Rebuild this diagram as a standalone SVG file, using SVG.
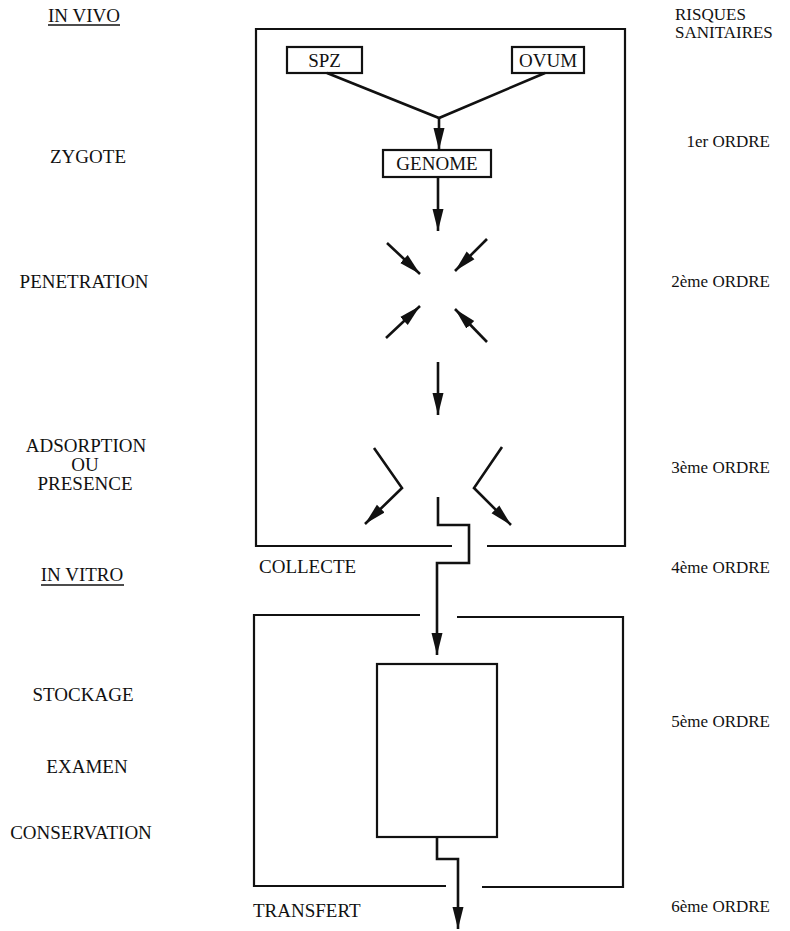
<svg xmlns="http://www.w3.org/2000/svg" width="790" height="931" viewBox="0 0 790 931">
<style>
text{font-family:"Liberation Serif","Times New Roman",serif;font-size:19px;fill:#111}
.l{text-anchor:middle}
.r{font-size:17px;text-anchor:end}
.rs{font-size:17px}
.box{fill:#fff;stroke:#111;stroke-width:2.2}
.fr{fill:none;stroke:#111;stroke-width:2.2}
.c{fill:none;stroke:#111;stroke-width:2.6;stroke-linejoin:miter}
.a{marker-end:url(#ah)}
.u{stroke:#111;stroke-width:1.3}
</style>
<defs>
<marker id="ah" markerUnits="userSpaceOnUse" markerWidth="23" markerHeight="14" refX="22" refY="7" orient="auto">
<path d="M0,1.5 L22,7 L0,12.5 z" fill="#111"/>
</marker>
</defs>
<g id="labels-left">
<text class="l" x="84" y="22">IN VIVO</text>
<line class="u" x1="48" y1="25" x2="120" y2="25"/>
<text class="l" x="88" y="163">ZYGOTE</text>
<text class="l" x="84" y="288">PENETRATION</text>
<text class="l" x="86" y="452">ADSORPTION</text>
<text class="l" x="85" y="471">OU</text>
<text class="l" x="85" y="490">PRESENCE</text>
<text class="l" x="82" y="581">IN VITRO</text>
<line class="u" x1="41" y1="585" x2="124" y2="585"/>
<text class="l" x="83" y="701">STOCKAGE</text>
<text class="l" x="87" y="773">EXAMEN</text>
<text class="l" x="81" y="839">CONSERVATION</text>
</g>
<g id="labels-right">
<text class="rs" x="675" y="20">RISQUES</text>
<text class="rs" x="675" y="38">SANITAIRES</text>
<text class="r" x="770" y="147">1er ORDRE</text>
<text class="r" x="770" y="287">2ème ORDRE</text>
<text class="r" x="770" y="473">3ème ORDRE</text>
<text class="r" x="770" y="573">4ème ORDRE</text>
<text class="r" x="770" y="727">5ème ORDRE</text>
<text class="r" x="770" y="912">6ème ORDRE</text>
</g>
<g id="in-vivo-frame">
<path class="fr" d="M452,546 L256,546 L256,29 L625,29 L625,546 L487,546"/>
<text x="259" y="573">COLLECTE</text>
</g>
<g id="in-vitro-frame">
<path class="fr" d="M420,615 L254,615 L254,886 L446,886"/>
<path class="fr" d="M457,617 L623,617 L623,887 L482,887"/>
<text x="253" y="917">TRANSFERT</text>
</g>
<g id="spz"><rect class="box" x="287" y="47" width="75" height="26"/><text class="l" x="324.5" y="67">SPZ</text></g>
<g id="ovum"><rect class="box" x="512" y="47" width="72" height="26"/><text class="l" x="548" y="67">OVUM</text></g>
<g id="genome"><rect class="box" x="383" y="150" width="108" height="27"/><text class="l" x="437" y="170">GENOME</text></g>
<g id="container"><rect class="box" x="377" y="664" width="120" height="173"/></g>
<g id="connectors">
<path class="c" d="M327,73 L439,118 L545,73"/>
<path class="c a" d="M439,118 L439,150"/>
<path class="c a" d="M438,177 L438,231"/>
<path class="c a" d="M387,243 L420,274"/>
<path class="c a" d="M487,239 L455,271"/>
<path class="c a" d="M386,338 L420,306"/>
<path class="c a" d="M487,342 L455,309"/>
<path class="c a" d="M438,362 L438,415"/>
<path class="c a" d="M374,448 L402,488 L365,524"/>
<path class="c a" d="M502,447 L474,488 L511,525"/>
<path class="c a" d="M438,497 L438,525 L469,525 L469,563 L437,563 L437,655"/>
<path class="c a" d="M437,837 L437,859 L458,859 L458,929"/>
</g>
</svg>
